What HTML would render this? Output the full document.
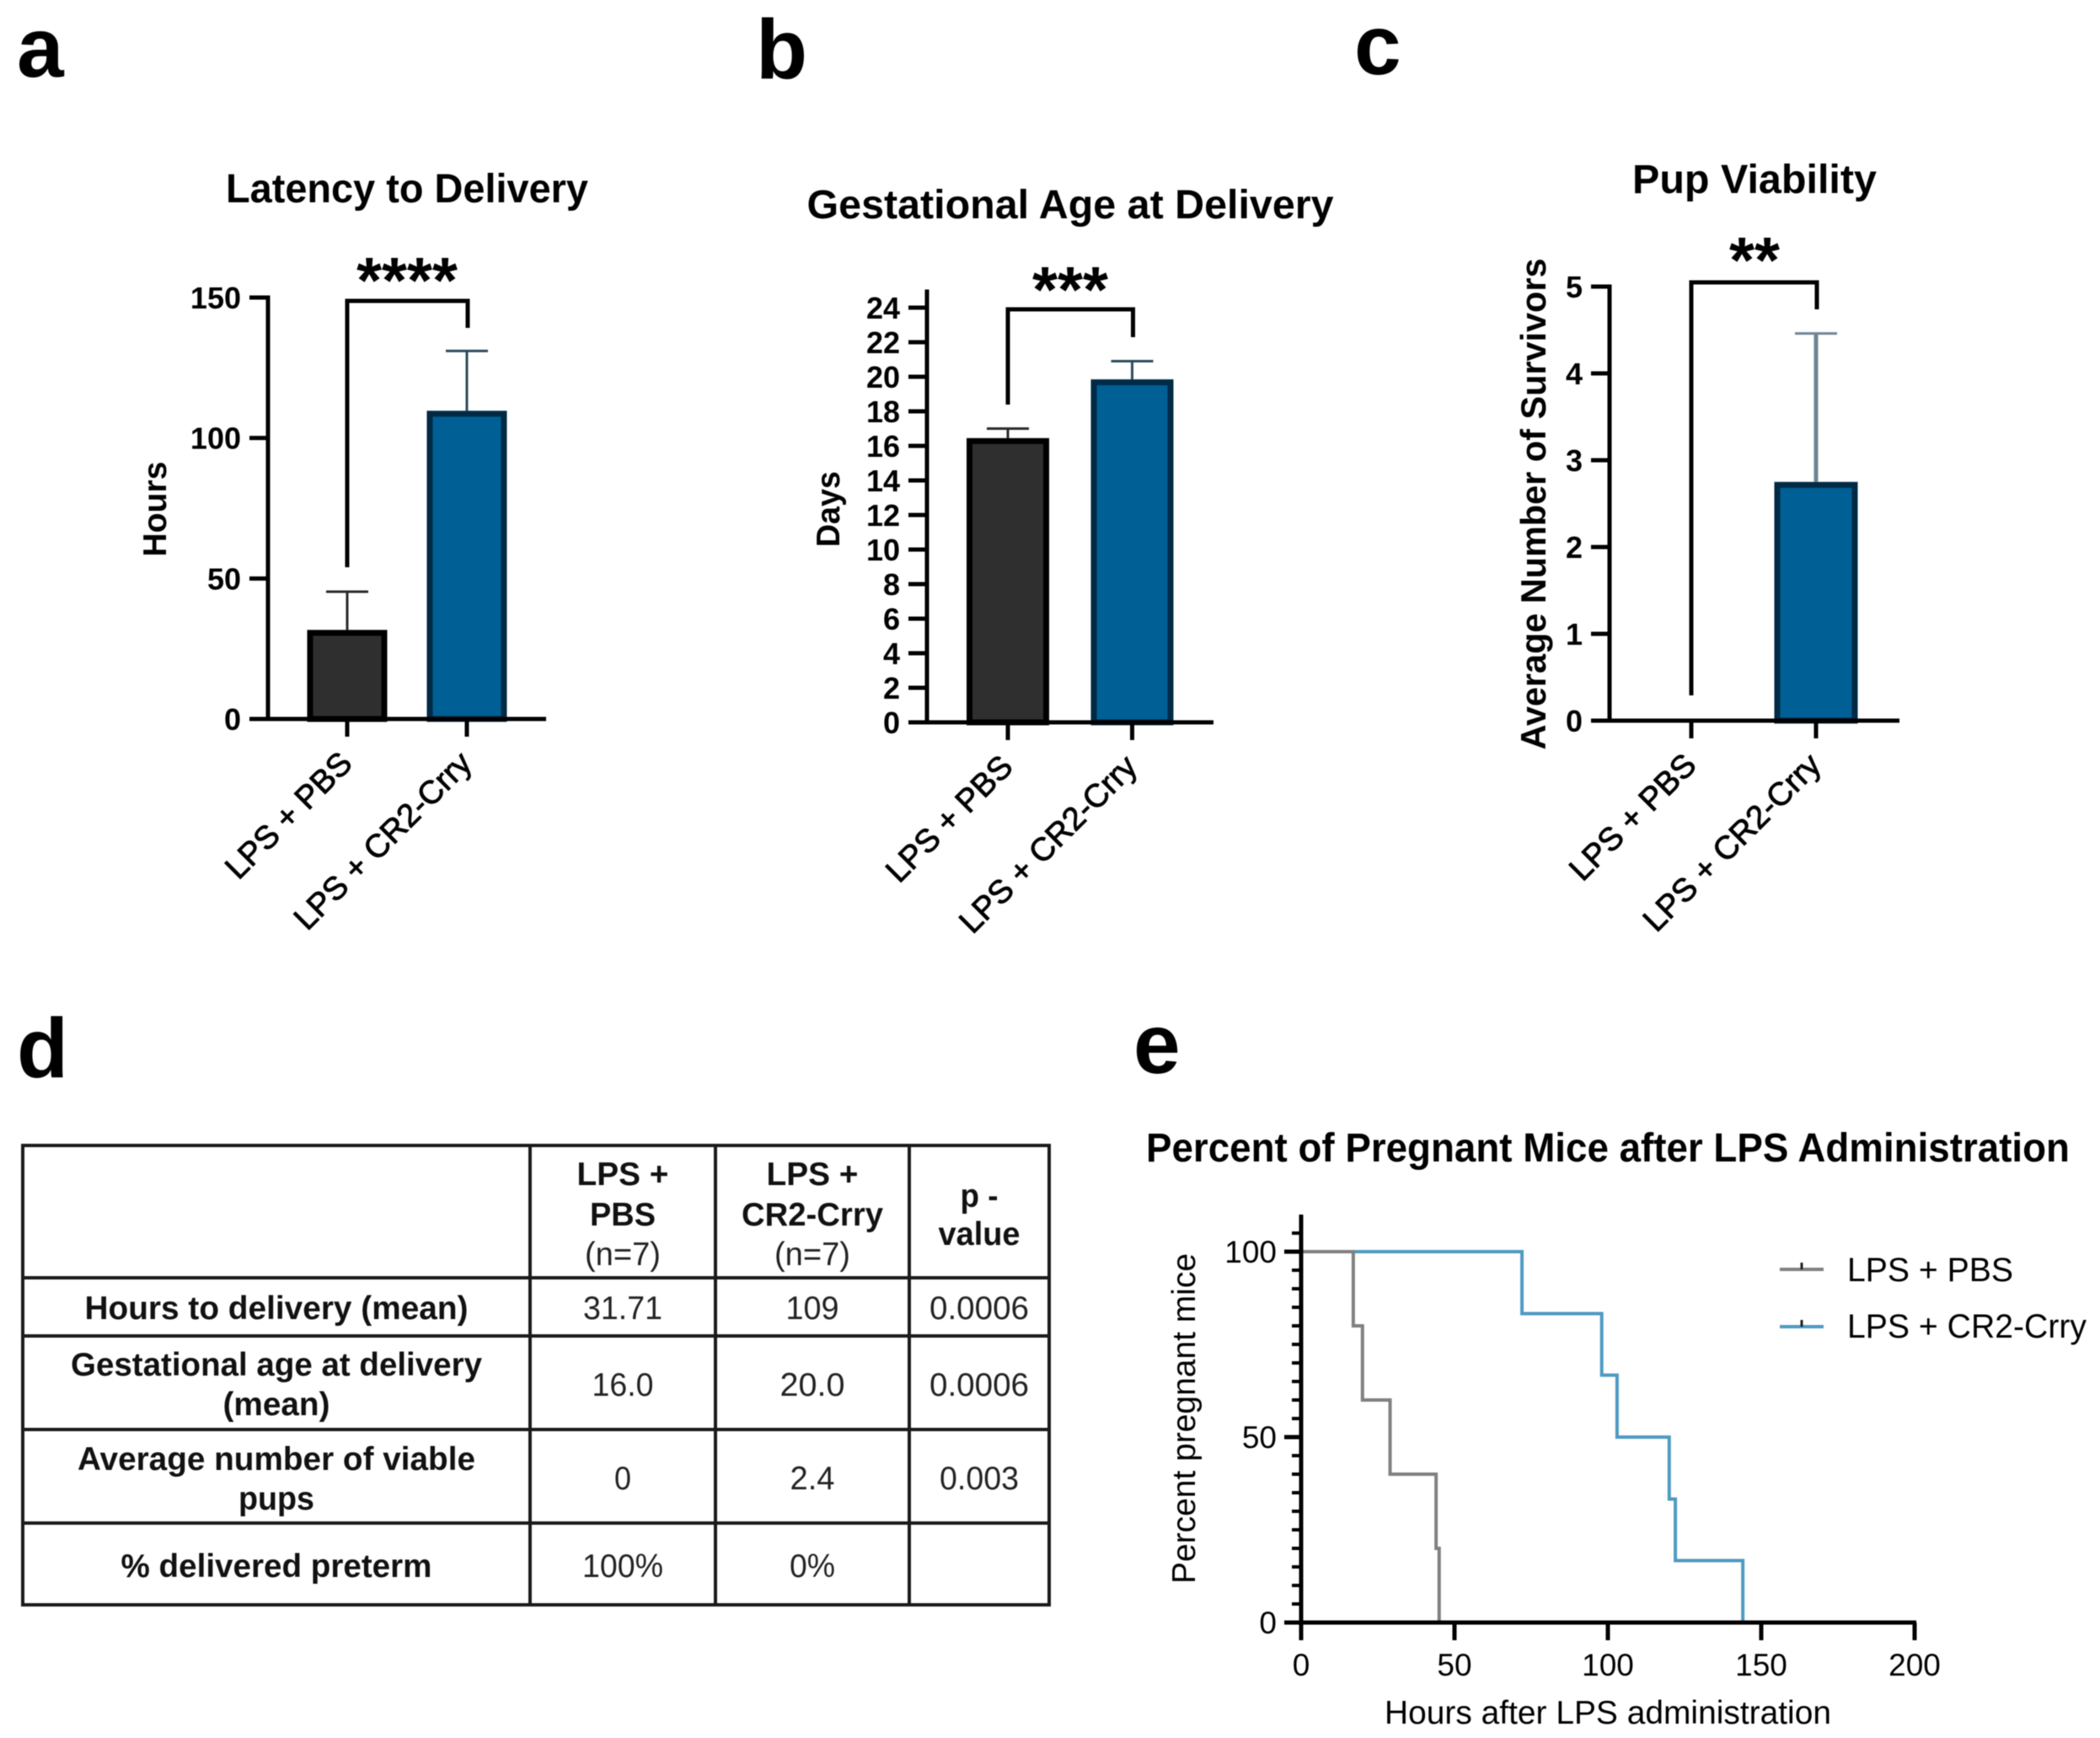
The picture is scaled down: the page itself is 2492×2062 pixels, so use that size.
<!DOCTYPE html>
<html lang="en">
<head>
<meta charset="utf-8">
<title>LPS + CR2-Crry figure</title>
<style>
  html, body { margin: 0; padding: 0; background: #fff; }
  #figure { display: block; width: 2492px; height: 2062px; filter: blur(0.6px); }
  text { font-family: "Liberation Sans", Arial, sans-serif; fill: #000; }
  .pl { font-size: 100px; font-weight: bold; }
  .cb { font-size: 39px; font-weight: bold; text-anchor: middle; fill: #111; }
  .cr { font-size: 39px; text-anchor: middle; fill: #222; }
</style>
</head>
<body>
<svg id="figure" xmlns="http://www.w3.org/2000/svg" width="2492" height="2062" viewBox="0 0 2492 2062">
  <rect x="0" y="0" width="2492" height="2062" fill="#fff"/>
  <text class="pl" x="20" y="91">a</text>
  <text class="pl" x="897" y="93">b</text>
  <text class="pl" x="1607" y="88">c</text>
  <text class="pl" x="20" y="1278">d</text>
  <text class="pl" x="1345" y="1273">e</text>

  <g id="results-table">
    <g stroke="#1a1a1a" stroke-width="4" fill="none">
      <rect x="27" y="1359" width="1218" height="545"/>
      <line x1="629" y1="1359" x2="629" y2="1904"/>
      <line x1="849" y1="1359" x2="849" y2="1904"/>
      <line x1="1079" y1="1359" x2="1079" y2="1904"/>
      <line x1="27" y1="1516" x2="1245" y2="1516"/>
      <line x1="27" y1="1585" x2="1245" y2="1585"/>
      <line x1="27" y1="1696" x2="1245" y2="1696"/>
      <line x1="27" y1="1807" x2="1245" y2="1807"/>
    </g>
    <text class="cb" x="739" y="1406" textLength="109" lengthAdjust="spacingAndGlyphs">LPS +</text>
    <text class="cb" x="739" y="1454" textLength="78" lengthAdjust="spacingAndGlyphs">PBS</text>
    <text class="cr" x="739" y="1501" textLength="90" lengthAdjust="spacingAndGlyphs">(n=7)</text>
    <text class="cb" x="964" y="1406" textLength="109" lengthAdjust="spacingAndGlyphs">LPS +</text>
    <text class="cb" x="964" y="1454" textLength="168" lengthAdjust="spacingAndGlyphs">CR2-Crry</text>
    <text class="cr" x="964" y="1501" textLength="90" lengthAdjust="spacingAndGlyphs">(n=7)</text>
    <text class="cb" x="1162" y="1432" textLength="45" lengthAdjust="spacingAndGlyphs">p -</text>
    <text class="cb" x="1162" y="1477" textLength="97" lengthAdjust="spacingAndGlyphs">value</text>

    <text class="cb" x="328" y="1565" textLength="455" lengthAdjust="spacingAndGlyphs">Hours to delivery (mean)</text>
    <text class="cr" x="739" y="1565" textLength="94" lengthAdjust="spacingAndGlyphs">31.71</text>
    <text class="cr" x="964" y="1565" textLength="63" lengthAdjust="spacingAndGlyphs">109</text>
    <text class="cr" x="1162" y="1565" textLength="118" lengthAdjust="spacingAndGlyphs">0.0006</text>

    <text class="cb" x="328" y="1632" textLength="488" lengthAdjust="spacingAndGlyphs">Gestational age at delivery</text>
    <text class="cb" x="328" y="1679" textLength="127" lengthAdjust="spacingAndGlyphs">(mean)</text>
    <text class="cr" x="739" y="1656" textLength="73" lengthAdjust="spacingAndGlyphs">16.0</text>
    <text class="cr" x="964" y="1656" textLength="77" lengthAdjust="spacingAndGlyphs">20.0</text>
    <text class="cr" x="1162" y="1656" textLength="118" lengthAdjust="spacingAndGlyphs">0.0006</text>

    <text class="cb" x="328" y="1744" textLength="472" lengthAdjust="spacingAndGlyphs">Average number of viable</text>
    <text class="cb" x="328" y="1791" textLength="90" lengthAdjust="spacingAndGlyphs">pups</text>
    <text class="cr" x="739" y="1767" textLength="20" lengthAdjust="spacingAndGlyphs">0</text>
    <text class="cr" x="964" y="1767" textLength="53" lengthAdjust="spacingAndGlyphs">2.4</text>
    <text class="cr" x="1162" y="1767" textLength="94" lengthAdjust="spacingAndGlyphs">0.003</text>

    <text class="cb" x="328" y="1871" textLength="369" lengthAdjust="spacingAndGlyphs">% delivered preterm</text>
    <text class="cr" x="739" y="1871" textLength="96" lengthAdjust="spacingAndGlyphs">100%</text>
    <text class="cr" x="964" y="1871" textLength="54" lengthAdjust="spacingAndGlyphs">0%</text>
  </g>
</svg>

<script>
// ---- chart data ----
const groupLabels = ['LPS + PBS', 'LPS + CR2-Crry'];

const latencyMeans = [31.7, 109.7];
const latencyErrorTops = [45.3, 131];
const latencyTicks = [0, 50, 100, 150];

const gestationMeans = [16.45, 19.85];
const gestationErrorTops = [17, 20.9];
const gestationTicks = [0, 2, 4, 6, 8, 10, 12, 14, 16, 18, 20, 22, 24];

const viabilityMeans = [0, 2.75];
const viabilityErrorTops = [0, 4.46];
const viabilityTicks = [0, 1, 2, 3, 4, 5];

const pbsHours = [0, 17, 20, 29, 44, 45];
const pbsPercent = [100, 80, 60, 40, 20, 0];
const crryHours = [0, 72, 98, 103, 120, 122, 144];
const crryPercent = [100, 83.3, 66.7, 50, 33.3, 16.7, 0];

const survivalXTicks = [0, 50, 100, 150, 200];
const survivalYTicks = [0, 50, 100];
const survivalYMinorTicks = [5, 10, 15, 20, 25, 30, 35, 40, 45, 55, 60, 65, 70, 75, 80, 85, 90, 95, 105];

// ---- helpers ----
const SVGNS = 'http://www.w3.org/2000/svg';
const svg = document.getElementById('figure');

function make(tag, attrs, parent) {
  const el = document.createElementNS(SVGNS, tag);
  Object.keys(attrs).forEach(function (k) { el.setAttribute(k, attrs[k]); });
  (parent || svg).appendChild(el);
  return el;
}
function line(x1, y1, x2, y2, color, width, parent) {
  return make('line', { x1: x1, y1: y1, x2: x2, y2: y2, stroke: color, 'stroke-width': width }, parent);
}
function label(str, attrs, parent) {
  const el = make('text', attrs, parent);
  el.textContent = str;
  return el;
}

// ---- bar panels ----
function drawBarPanel(p, means, errorTops, ticks) {
  const g = make('g', {});
  
  

  const yOf = function (v) { return p.y0 - (v / p.yMax) * (p.y0 - p.yMaxPx); };
  const xOf = function (i) { return p.c0 + i * p.step; };

  const title = label(p.title, { x: p.titleX, y: p.titleY, 'text-anchor': 'middle', 'font-size': 48, 'font-weight': 'bold', textLength: p.titleW, lengthAdjust: 'spacingAndGlyphs' }, g);
  
  

  const yTitle = label(p.yTitle, {
    transform: 'translate(' + p.yTitleX + ',' + p.yTitleY + ') rotate(-90)',
    'text-anchor': 'middle', 'font-size': p.yTitleSize, 'font-weight': 'bold', textLength: p.yTitleW, lengthAdjust: 'spacingAndGlyphs'
  }, g);
  
  

  means.forEach(function (m, i) {
    const cx = xOf(i);
    const errColor = i === 0 ? '#2a2a2a' : p.errColor;
    if (errorTops[i] > m) {
      const errLine = line(cx, yOf(m), cx, yOf(errorTops[i]), errColor, p.errWidth, g);
      
      
      const errCap = line(cx - 25, yOf(errorTops[i]), cx + 25, yOf(errorTops[i]), errColor, 3, g);
      
      
    }
    if (m > 0) {
      const bw = p.barW, sw = 7;
      const bar = make('rect', {
        x: cx - bw / 2 + sw / 2, y: yOf(m) + sw / 2,
        width: bw - sw, height: p.y0 - yOf(m) - sw / 2,
        fill: i === 0 ? '#2f2f2f' : '#005f94',
        stroke: i === 0 ? '#000000' : '#002a45',
        'stroke-width': sw
      }, g);
      
      
    }
  });

  // axes
  const yAxis = line(p.x0, yOf(ticks[ticks.length - 1]) - p.axisExtra - 2.5, p.x0, p.y0 + 2, '#000', 5, g);
  
  
  const xAxis = line(p.x0 - 22, p.y0, p.xEnd, p.y0, '#000', 5, g);
  
  

  ticks.forEach(function (t) {
    if (t !== 0) {
      const tk = line(p.x0 - 22, yOf(t), p.x0, yOf(t), '#000', 5, g);
      
      
    }
    const tl = label(String(t), { x: p.x0 - 32, y: yOf(t) + 13, 'text-anchor': 'end', 'font-size': 36, 'font-weight': 'bold' }, g);
    
    
  });

  groupLabels.forEach(function (name, i) {
    const cx = xOf(i);
    const tk = line(cx, p.y0, cx, p.y0 + 21, '#000', 5, g);
    
    
    const tl = label(name, {
      transform: 'translate(' + (cx + 8) + ',' + (p.y0 + 55) + ') rotate(-45)',
      'text-anchor': 'end', 'font-size': 38.5, stroke: '#000', 'stroke-width': 0.9
    }, g);
    
    
  });

  // significance bracket
  const bx0 = xOf(0), bx1 = xOf(1) + 1;
  const bracket = make('path', {
    d: 'M' + bx0 + ' ' + p.brLeftBottom + 'V' + p.brTop + 'H' + bx1 + 'V' + p.brRightBottom,
    fill: 'none', stroke: '#000', 'stroke-width': 5
  }, g);
  
  
  const stars = label(p.stars, { x: p.starX, y: p.starY + 36, 'text-anchor': 'middle', 'font-size': 77, 'font-weight': 'bold' }, g);
  
  
}

drawBarPanel({
  id: 'latency', title: 'Latency to Delivery', titleX: 483, titleY: 240, titleW: 430,
  yTitle: 'Hours', yTitleX: 197, yTitleY: 604, yTitleW: 113, yTitleSize: 39,
  x0: 318, xEnd: 648, y0: 853, yMaxPx: 353, yMax: 150, axisExtra: 0,
  c0: 412, step: 142, barW: 95, errColor: '#2d4a5c', errWidth: 3,
  brTop: 357, brLeftBottom: 673, brRightBottom: 389, starX: 483, starY: 323, stars: '****'
}, latencyMeans, latencyErrorTops, latencyTicks);

drawBarPanel({
  id: 'gestation', title: 'Gestational Age at Delivery', titleX: 1270, titleY: 259, titleW: 625,
  yTitle: 'Days', yTitleX: 996, yTitleY: 604, yTitleW: 90, yTitleSize: 39,
  x0: 1100, xEnd: 1440, y0: 857, yMaxPx: 365, yMax: 24, axisExtra: 19,
  c0: 1196, step: 147.5, barW: 98, errColor: '#2d4a5c', errWidth: 3,
  brTop: 367, brLeftBottom: 480, brRightBottom: 400, starX: 1270, starY: 334, stars: '***'
}, gestationMeans, gestationErrorTops, gestationTicks);

drawBarPanel({
  id: 'viability', title: 'Pup Viability', titleX: 2082, titleY: 229, titleW: 290,
  yTitle: 'Average Number of Survivors', yTitleX: 1834, yTitleY: 598, yTitleW: 583, yTitleSize: 42,
  x0: 1910, xEnd: 2254, y0: 855, yMaxPx: 340, yMax: 5, axisExtra: 0,
  c0: 2007, step: 148, barW: 99, errColor: '#6f8593', errWidth: 5,
  brTop: 335, brLeftBottom: 825, brRightBottom: 367, starX: 2082, starY: 299, stars: '**'
}, viabilityMeans, viabilityErrorTops, viabilityTicks);

// ---- survival panel ----
const sx0 = 1544, sx200 = 2272, sy0 = 1925, sy100 = 1485;
function xHours(h) { return sx0 + (h / 200) * (sx200 - sx0); }
function yPct(v) { return sy0 - (v / 100) * (sy0 - sy100); }

const sg = make('g', {});



function stepPath(hours, pct) {
  let d = 'M' + xHours(hours[0]) + ' ' + yPct(pct[0]);
  for (let i = 1; i < hours.length; i++) {
    d += 'H' + xHours(hours[i]) + 'V' + yPct(pct[i]);
  }
  return d;
}

const crryLine = make('path', { d: stepPath(crryHours, crryPercent), fill: 'none', stroke: '#4f9ac2', 'stroke-width': 4 }, sg);


const pbsLine = make('path', { d: stepPath(pbsHours, pbsPercent), fill: 'none', stroke: '#808080', 'stroke-width': 4 }, sg);



const sYAxis = line(sx0, yPct(110), sx0, sy0 + 2, '#000', 5, sg);


const sXAxis = line(sx0 - 20, sy0, sx200 + 2, sy0, '#000', 5, sg);



survivalYMinorTicks.forEach(function (t) {
  const tk = line(sx0 - 11, yPct(t), sx0, yPct(t), '#000', 4, sg);
  
  
});
survivalYTicks.forEach(function (t) {
  const tk = line(sx0 - 20, yPct(t), sx0, yPct(t), '#000', 5, sg);
  
  
  const tl = label(String(t), { x: sx0 - 29, y: yPct(t) + 13, 'text-anchor': 'end', 'font-size': 37, fill: '#222' }, sg);
  
  
});
survivalXTicks.forEach(function (t) {
  const tk = line(xHours(t), sy0, xHours(t), sy0 + 21, '#000', 5, sg);
  
  
  const tl = label(String(t), { x: xHours(t), y: 1988, 'text-anchor': 'middle', 'font-size': 37, fill: '#222' }, sg);
  
  
});

const sTitle = label('Percent of Pregnant Mice after LPS Administration', { x: 1908, y: 1378, 'text-anchor': 'middle', 'font-size': 48, 'font-weight': 'bold', textLength: 1096, lengthAdjust: 'spacingAndGlyphs' }, sg);


const sXTitle = label('Hours after LPS administration', { x: 1908, y: 2045, 'text-anchor': 'middle', 'font-size': 39, fill: '#222', textLength: 530, lengthAdjust: 'spacingAndGlyphs' }, sg);


const sYTitle = label('Percent pregnant mice', { transform: 'translate(1418,1683) rotate(-90)', 'text-anchor': 'middle', 'font-size': 39, fill: '#222', textLength: 392, lengthAdjust: 'spacingAndGlyphs' }, sg);



[{ y: 1506, color: '#808080', base: 1520, w: 197 }, { y: 1574, color: '#4f9ac2', base: 1587, w: 284 }].forEach(function (it, i) {
  const ln = line(2112, it.y, 2164, it.y, it.color, 4, sg);
  
  
  const mk = line(2138, it.y - 8, 2138, it.y, '#222', 3, sg);
  
  
  const tx = label(groupLabels[i], { x: 2192, y: it.base, 'font-size': 40, fill: '#222', textLength: it.w, lengthAdjust: 'spacingAndGlyphs' }, sg);
  
  
});
</script>
</body>
</html>
